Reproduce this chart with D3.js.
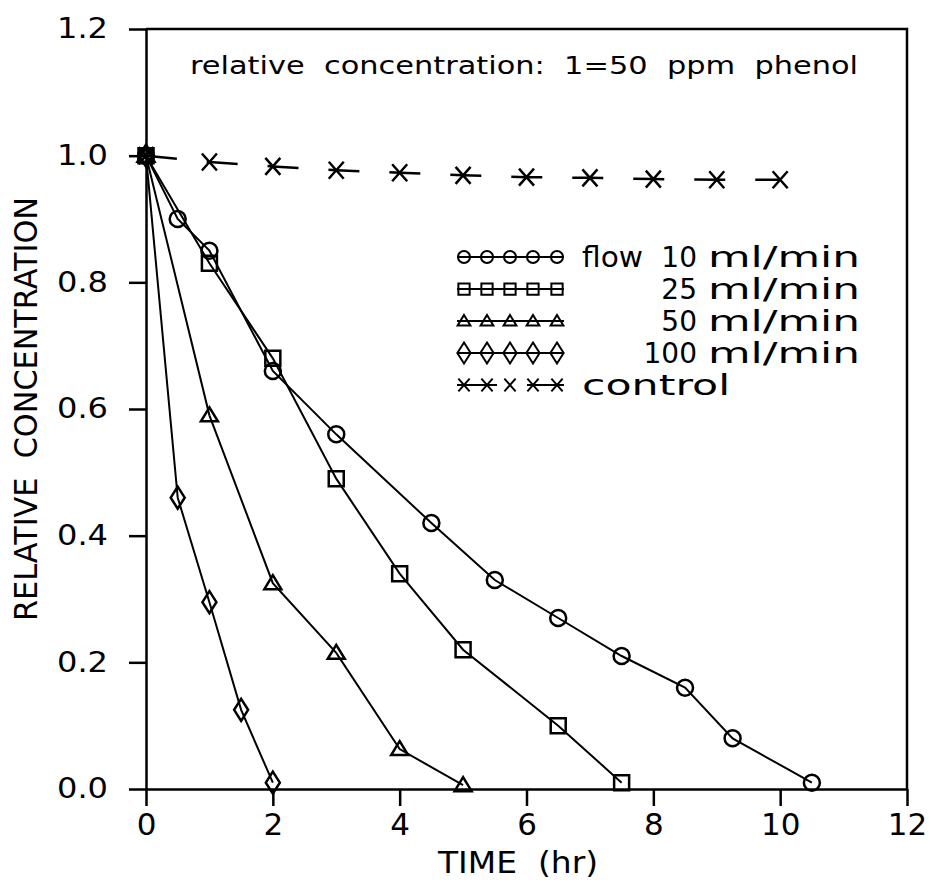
<!DOCTYPE html>
<html>
<head>
<meta charset="utf-8">
<script src="https://cdn.jsdelivr.net/npm/d3@7"></script>
<style>
body { margin: 0; background: #fff; }
text { font-family: "DejaVu Sans", "Liberation Sans", Arial, sans-serif; fill: #000; }
</style>
</head>
<body>
<svg width="931" height="885"></svg>
<script>
// values
var timeFlow10 = [0, 0.5, 1, 2, 3, 4.5, 5.5, 6.5, 7.5, 8.5, 9.25, 10.5];
var concFlow10 = [1.0, 0.90, 0.85, 0.66, 0.56, 0.42, 0.33, 0.27, 0.21, 0.16, 0.08, 0.01];
var timeFlow25 = [0, 1, 2, 3, 4, 5, 6.5, 7.5];
var concFlow25 = [1.0, 0.83, 0.68, 0.49, 0.34, 0.22, 0.10, 0.01];
var timeFlow50 = [0, 1, 2, 3, 4, 5];
var concFlow50 = [1.0, 0.59, 0.325, 0.215, 0.063, 0.006];
var timeFlow100 = [0, 0.5, 1, 1.5, 2];
var concFlow100 = [1.0, 0.46, 0.295, 0.125, 0.01];
var timeControl = [0, 1, 2, 3, 4, 5, 6, 7, 8, 9, 10];
var concControl = [1.0, 0.99, 0.983, 0.977, 0.973, 0.969, 0.966, 0.965, 0.963, 0.962, 0.962];

var xTicks = [0, 2, 4, 6, 8, 10, 12];
var yTicks = [0, 0.2, 0.4, 0.6, 0.8, 1.0, 1.2];

var legendNumbers = ["10", "25", "50", "100"];
var legendUnit = "ml/min";

var svg = d3.select("svg");

var x = d3.scaleLinear().domain([0, 12]).range([146, 907]);
var y = d3.scaleLinear().domain([0, 1.2]).range([789, 29]);

function zip(t, c) {
    return t.map(function(d, i) { return {t: d, c: c[i]}; });
}

// marker shapes, drawn around (0,0)
function markerPath(kind, s) {
    s = s || 1;
    if (kind === "circle") {
        var r = 8 * s;
        return "M" + (-r) + ",0A" + r + "," + r + " 0 1,0 " + r + ",0A" + r + "," + r + " 0 1,0 " + (-r) + ",0Z";
    }
    if (kind === "square") {
        var h = 7.5 * s;
        return "M" + (-h) + "," + (-h) + "H" + h + "V" + h + "H" + (-h) + "Z";
    }
    if (kind === "triangle") {
        return "M0," + (-8 * s) + "L" + (8.5 * s) + "," + (6 * s) + "H" + (-8.5 * s) + "Z";
    }
    if (kind === "diamond") {
        return "M0," + (-11 * s) + "L" + (7 * s) + ",0L0," + (11 * s) + "L" + (-7 * s) + ",0Z";
    }
    // control: x mark
    var a = 7.5 * s, b = 8.5 * s;
    return "M" + (-a) + "," + (-b) + "L" + a + "," + b + "M" + a + "," + (-b) + "L" + (-a) + "," + b;
}

var series = [
    {kind: "circle", data: zip(timeFlow10, concFlow10)},
    {kind: "square", data: zip(timeFlow25, concFlow25)},
    {kind: "triangle", data: zip(timeFlow50, concFlow50)},
    {kind: "diamond", data: zip(timeFlow100, concFlow100)},
    {kind: "control", data: zip(timeControl, concControl)}
];

// axes
var axisStyle = function(g, fs) {
    g.attr("font-family", null).attr("font-size", fs);
    g.select(".domain").attr("stroke-width", 2.5);
    g.selectAll(".tick line").attr("stroke-width", 2.5);
};

svg.append("g")
    .attr("transform", "translate(0," + y(0) + ")")
    .call(d3.axisBottom(x).tickValues(xTicks).tickSize(17).tickSizeOuter(0).tickPadding(7).tickFormat(d3.format("d")))
    .call(axisStyle, 31);

svg.append("g")
    .attr("transform", "translate(" + x(0) + ",0)")
    .call(d3.axisLeft(y).tickValues(yTicks).tickSize(17).tickSizeOuter(0).tickPadding(21).tickFormat(d3.format(".1f")))
    .call(axisStyle, 28)
    .selectAll("text")
    .attr("textLength", 51)
    .attr("lengthAdjust", "spacingAndGlyphs");

// top and right frame
svg.append("path")
    .attr("d", "M" + x(0) + "," + y(1.2) + "H" + x(12) + "V" + y(0))
    .attr("fill", "none")
    .attr("stroke", "#000")
    .attr("stroke-width", 2.5);

// lines
var line = d3.line()
    .x(function(d) { return x(d.t); })
    .y(function(d) { return y(d.c); });

series.forEach(function(s) {
    var p = svg.append("path")
        .datum(s.data)
        .attr("fill", "none")
        .attr("stroke", "#000")
        .attr("stroke-width", 2)
        .attr("d", line);
    if (s.kind === "control") p.attr("stroke-width", 2.5).attr("stroke-dasharray", "31,30");

    svg.append("g").selectAll("path")
        .data(s.data)
        .enter().append("path")
        .attr("transform", function(d) { return "translate(" + x(d.t) + "," + y(d.c) + ")"; })
        .attr("d", markerPath(s.kind))
        .attr("fill", "none")
        .attr("stroke", "#000")
        .attr("stroke-width", 2.5);
});

// title
svg.append("text")
    .attr("x", 190).attr("y", 74)
    .attr("font-size", 25)
    .attr("textLength", 668)
    .attr("lengthAdjust", "spacingAndGlyphs")
    .style("white-space", "pre")
    .text("relative  concentration:  1=50  ppm  phenol");

// axis titles
svg.append("text")
    .attr("x", 438).attr("y", 873)
    .attr("font-size", 31)
    .attr("textLength", 160)
    .attr("lengthAdjust", "spacingAndGlyphs")
    .style("white-space", "pre")
    .text("TIME  (hr)");

svg.append("text")
    .attr("transform", "translate(37,409) rotate(-90)")
    .attr("text-anchor", "middle")
    .attr("font-size", 32)
    .attr("textLength", 424)
    .attr("lengthAdjust", "spacingAndGlyphs")
    .style("white-space", "pre")
    .text("RELATIVE  CONCENTRATION");

// legend
var legendBase = [267, 299, 331, 363, 395];
var legendMarkX = [464, 487, 510, 533, 557];

series.forEach(function(s, i) {
    var cy = legendBase[i] - 10;
    var g = svg.append("g").attr("transform", "translate(0," + cy + ")");
    var ln = g.append("line")
        .attr("x1", 457).attr("x2", 564)
        .attr("y1", 0).attr("y2", 0)
        .attr("stroke", "#000").attr("stroke-width", 2);
    if (s.kind === "control") ln.attr("stroke-dasharray", "40,30");
    g.selectAll("path")
        .data(legendMarkX)
        .enter().append("path")
        .attr("transform", function(d) { return "translate(" + d + ",0)"; })
        .attr("d", markerPath(s.kind, s.kind === "diamond" ? 0.95 : 0.75))
        .attr("fill", "none")
        .attr("stroke", "#000")
        .attr("stroke-width", 2);
});

svg.append("text")
    .attr("x", 582).attr("y", legendBase[0])
    .attr("font-size", 28)
    .attr("textLength", 61)
    .attr("lengthAdjust", "spacingAndGlyphs")
    .text("flow");

legendNumbers.forEach(function(n, i) {
    svg.append("text")
        .attr("x", 697).attr("y", legendBase[i])
        .attr("text-anchor", "end")
        .attr("font-size", 28)
        .text(n);
    svg.append("text")
        .attr("x", 708).attr("y", legendBase[i])
        .attr("font-size", 28)
        .attr("textLength", 152)
        .attr("lengthAdjust", "spacingAndGlyphs")
        .text(legendUnit);
});

svg.append("text")
    .attr("x", 582).attr("y", legendBase[4])
    .attr("font-size", 28)
    .attr("textLength", 148)
    .attr("lengthAdjust", "spacingAndGlyphs")
    .text("control");
</script>
</body>
</html>
